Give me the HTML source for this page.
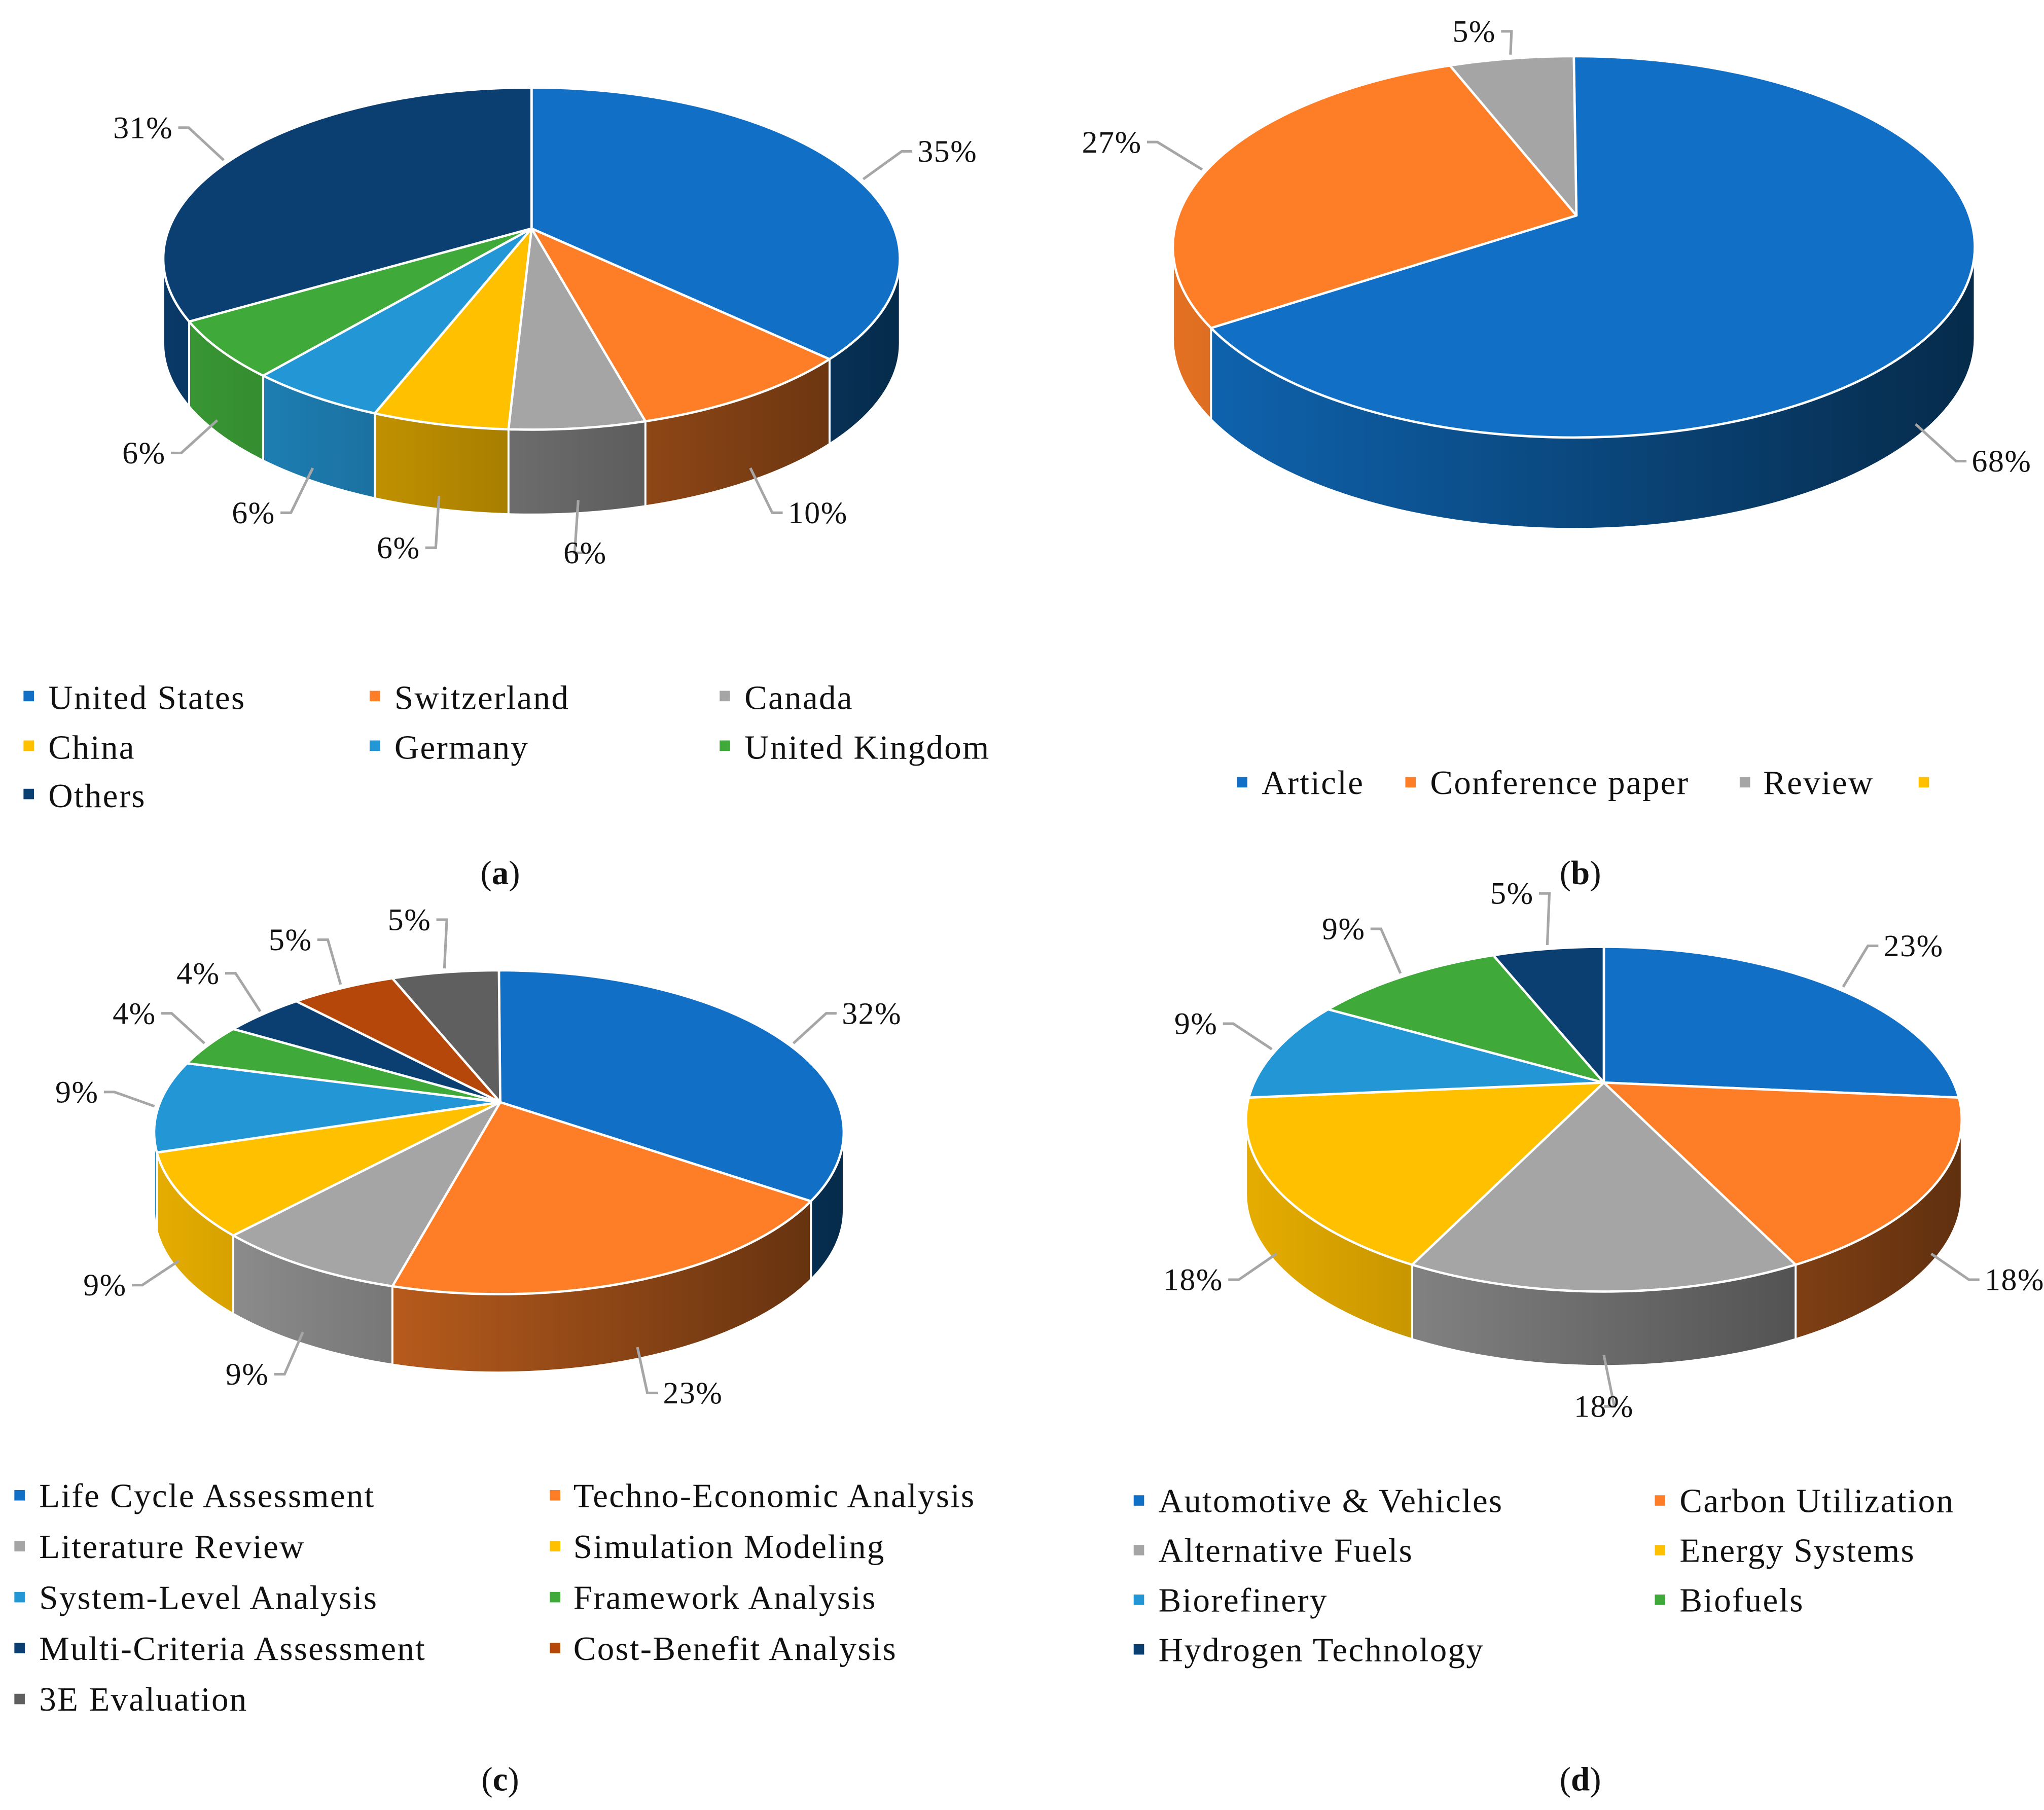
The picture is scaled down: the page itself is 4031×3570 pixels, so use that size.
<!DOCTYPE html>
<html><head><meta charset="utf-8"><style>
html,body{margin:0;padding:0;background:#fff}
svg{display:block}
text{font-family:"Liberation Serif",serif;fill:#111}
.lg text{font-size:26px;letter-spacing:0.9px}
</style></head><body>
<svg id="chart" xmlns="http://www.w3.org/2000/svg" width="4031" height="3570" viewBox="0 0 1565 1386" preserveAspectRatio="none">
<defs id="defs"></defs>
<g id="plots"></g>
<g class="lg">
 <rect x="18" y="529" width="8" height="8" fill="#1170C6"/><text x="37" y="543">United States</text>
 <rect x="283" y="529" width="8" height="8" fill="#FD7E27"/><text x="302" y="543">Switzerland</text>
 <rect x="551" y="529" width="8" height="8" fill="#A5A5A5"/><text x="570" y="543">Canada</text>
 <rect x="18" y="567" width="8" height="8" fill="#FFC000"/><text x="37" y="581">China</text>
 <rect x="283" y="567" width="8" height="8" fill="#2397D6"/><text x="302" y="581">Germany</text>
 <rect x="551" y="567" width="8" height="8" fill="#3FAA3A"/><text x="570" y="581">United Kingdom</text>
 <rect x="18" y="604" width="8" height="8" fill="#0B3F72"/><text x="37" y="618">Others</text>
</g>
<g class="lg">
 <rect x="947" y="595" width="8" height="8" fill="#1170C6"/><text x="966" y="608">Article</text>
 <rect x="1076" y="595" width="8" height="8" fill="#FD7E27"/><text x="1095" y="608">Conference paper</text>
 <rect x="1332" y="595" width="8" height="8" fill="#A5A5A5"/><text x="1350" y="608">Review</text>
 <rect x="1469" y="595" width="8" height="8" fill="#FFC000"/>
</g>
<g class="lg">
 <rect x="11" y="1141" width="8" height="8" fill="#1170C6"/><text x="30" y="1154">Life Cycle Assessment</text>
 <rect x="421" y="1141" width="8" height="8" fill="#FD7E27"/><text x="439" y="1154">Techno-Economic Analysis</text>
 <rect x="11" y="1180" width="8" height="8" fill="#A5A5A5"/><text x="30" y="1193">Literature Review</text>
 <rect x="421" y="1180" width="8" height="8" fill="#FFC000"/><text x="439" y="1193">Simulation Modeling</text>
 <rect x="11" y="1219" width="8" height="8" fill="#2397D6"/><text x="30" y="1232">System-Level Analysis</text>
 <rect x="421" y="1219" width="8" height="8" fill="#3FAA3A"/><text x="439" y="1232">Framework Analysis</text>
 <rect x="11" y="1258" width="8" height="8" fill="#0B3F72"/><text x="30" y="1271">Multi-Criteria Assessment</text>
 <rect x="421" y="1258" width="8" height="8" fill="#B5470A"/><text x="439" y="1271">Cost-Benefit Analysis</text>
 <rect x="11" y="1297" width="8" height="8" fill="#5F5F5F"/><text x="30" y="1310">3E Evaluation</text>
</g>
<g class="lg">
 <rect x="868" y="1145" width="8" height="8" fill="#1170C6"/><text x="887" y="1158">Automotive &amp; Vehicles</text>
 <rect x="1267" y="1145" width="8" height="8" fill="#FD7E27"/><text x="1286" y="1158">Carbon Utilization</text>
 <rect x="868" y="1183" width="8" height="8" fill="#A5A5A5"/><text x="887" y="1196">Alternative Fuels</text>
 <rect x="1267" y="1183" width="8" height="8" fill="#FFC000"/><text x="1286" y="1196">Energy Systems</text>
 <rect x="868" y="1221" width="8" height="8" fill="#2397D6"/><text x="887" y="1234">Biorefinery</text>
 <rect x="1267" y="1221" width="8" height="8" fill="#3FAA3A"/><text x="1286" y="1234">Biofuels</text>
 <rect x="868" y="1259" width="8" height="8" fill="#0B3F72"/><text x="887" y="1272">Hydrogen Technology</text>
</g>
<g font-size="26" text-anchor="middle">
 <text x="383" y="677">(<tspan font-weight="bold">a</tspan>)</text>
 <text x="1210" y="677">(<tspan font-weight="bold">b</tspan>)</text>
 <text x="383" y="1371">(<tspan font-weight="bold">c</tspan>)</text>
 <text x="1210" y="1371">(<tspan font-weight="bold">d</tspan>)</text>
</g>
</svg>
<script>
const valuesA = [35, 10, 6, 6, 6, 6, 31];
const colorsA = ["#1170C6","#FD7E27","#A5A5A5","#FFC000","#2397D6","#3FAA3A","#0B3F72"];
const valuesB = [68, 27, 5];
const colorsB = ["#1170C6","#FD7E27","#A5A5A5"];
const valuesC = [32, 23, 9, 9, 9, 4, 4, 5, 5];
const colorsC = ["#1170C6","#FD7E27","#A5A5A5","#FFC000","#2397D6","#3FAA3A","#0B3F72","#B5470A","#5F5F5F"];
const valuesD = [23, 18, 18, 18, 9, 9, 5];
const colorsD = ["#1170C6","#FD7E27","#A5A5A5","#FFC000","#2397D6","#3FAA3A","#0B3F72"];

const NS = "http://www.w3.org/2000/svg";
const defs = document.getElementById('defs');
const plots = document.getElementById('plots');
let gid = 0;
function mk(tag, attrs, parent){const e=document.createElementNS(NS,tag);for(const k in attrs)e.setAttribute(k,attrs[k]);parent.appendChild(e);return e;}
function shade(hex,f){const n=parseInt(hex.slice(1),16);const r=(n>>16)&255,g=(n>>8)&255,b=n&255;return `rgb(${Math.round(r*f)},${Math.round(g*f)},${Math.round(b*f)})`;}

function drawPie(name, values, colors, geo){
  const g = mk('g',{},plots);
  
  
  const {cx,cy,rx,ry,ax,ay,depth} = geo;
  const total = values.reduce((a,b)=>a+b,0);
  const P = t => [cx+rx*Math.cos(t), cy+ry*Math.sin(t)];
  let a = -Math.PI/2;
  const slices = values.map((v,i)=>{const a1=a; a+=v/total*2*Math.PI; return {v,i,a1,a2:a};});
  const walls = mk('g',{},g);
  const tops = mk('g',{},g);
  const labels = mk('g',{},g);
  slices.forEach(s=>{
    const ranges=[];
    for(const off of [0, 2*Math.PI, -2*Math.PI]){
      const lo=Math.max(s.a1, off), hi=Math.min(s.a2, off+Math.PI);
      if(hi>lo) ranges.push([lo,hi]);
    }
    const gradId='gr'+(gid++);
    const lg=mk('linearGradient',{id:gradId,gradientUnits:'userSpaceOnUse',x1:cx-rx,y1:0,x2:cx+rx,y2:0},defs);
    mk('stop',{offset:'0','stop-color':shade(colors[s.i],0.9)},lg);
    mk('stop',{offset:'1','stop-color':shade(colors[s.i],0.38)},lg);
    ranges.forEach(([lo,hi])=>{
      const p1=P(lo),p2=P(hi);
      const w=mk('path',{d:`M${p1[0]},${p1[1]} A${rx},${ry} 0 0 1 ${p2[0]},${p2[1]} L${p2[0]},${p2[1]+depth} A${rx},${ry} 0 0 0 ${p1[0]},${p1[1]+depth} Z`,fill:`url(#${gradId})`,stroke:'#fff','stroke-width':1.5},walls);
      
      
    });
    const p1=P(s.a1),p2=P(s.a2);
    const large=(s.a2-s.a1)>Math.PI?1:0;
    const t=mk('path',{d:`M${ax},${ay} L${p1[0]},${p1[1]} A${rx},${ry} 0 ${large} 1 ${p2[0]},${p2[1]} Z`,fill:colors[s.i],stroke:'#fff','stroke-width':1.8,'stroke-linejoin':'round'},tops);
    
    
    const m=(s.a1+s.a2)/2;
    const c=Math.cos(m), sn=Math.sin(m);
    const e=P(m); const ey=e[1]+(sn>0?depth*0.8:0);
    const lx=cx+rx*1.16*c;
    let ly=cy+ry*1.28*sn+(sn>0?depth:0);
    if(ly<30) ly=30;
    mk('path',{d:`M${e[0]+c*3},${ey+sn*3} L${lx- (c>0?8:-8)},${ly-6} L${lx},${ly-6}`,fill:'none',stroke:'#A6A6A6','stroke-width':2},labels);
    const anchor = c>0.15?'start':(c<-0.15?'end':'middle');
    const tx=mk('text',{x:lx+(c>0.15?4:(c<-0.15?-4:0)),y:ly+2,'font-size':24,'letter-spacing':0.6,'text-anchor':anchor},labels);
    tx.textContent=Math.round(s.v/total*100)+'%';
    
    
  });
}
drawPie('pie-a-countries', valuesA, colorsA, {cx:407,cy:198,rx:282,ry:131,ax:407,ay:175,depth:65});
drawPie('pie-b-document-types', valuesB, colorsB, {cx:1205,cy:189,rx:307,ry:146,ax:1207,ay:165,depth:70});
drawPie('pie-c-methods', valuesC, colorsC, {cx:382,cy:867,rx:264,ry:124,ax:383,ay:844,depth:60});
drawPie('pie-d-applications', valuesD, colorsD, {cx:1228,cy:857,rx:274,ry:132,ax:1228,ay:829,depth:57});
</script>
</body></html>
